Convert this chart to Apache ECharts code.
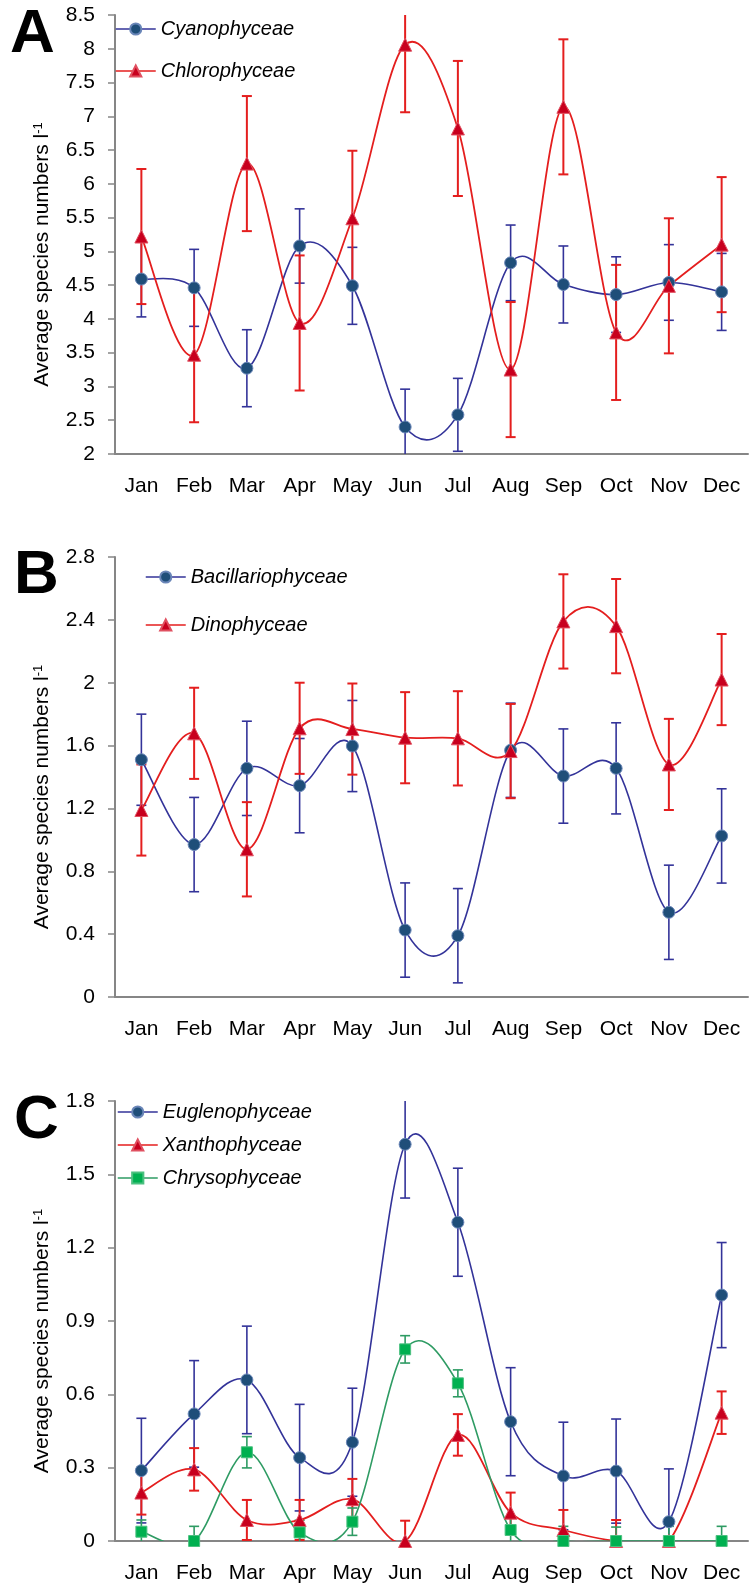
<!DOCTYPE html>
<html>
<head>
<meta charset="utf-8">
<script src="https://cdn.jsdelivr.net/npm/echarts@6/dist/echarts.min.js"></script>
<style>
  html, body { margin: 0; padding: 0; background: #fff; }
  #chart { width: 749px; height: 1588px; }
</style>
</head>
<body>
<div id="chart"></div>
<script>
// months on every x axis
const months = ['Jan', 'Feb', 'Mar', 'Apr', 'May', 'Jun', 'Jul', 'Aug', 'Sep', 'Oct', 'Nov', 'Dec']

// panel A
const cyano = [4.59, 4.46, 3.27, 5.08, 4.49, 2.40, 2.58, 4.83, 4.51, 4.36, 4.54, 4.40]
const cyanoErr = [0.56, 0.57, 0.57, 0.55, 0.57, 0.56, 0.54, 0.56, 0.57, 0.56, 0.56, 0.57]
const chloro = [5.22, 3.47, 6.30, 3.94, 5.49, 8.06, 6.82, 3.25, 7.14, 3.80, 4.49, 5.10]
const chloroErr = [1.0, 1.0, 1.0, 1.0, 1.0, 1.0, 1.0, 1.0, 1.0, 1.0, 1.0, 1.0]

// panel B
const bacill = [1.51, 0.97, 1.455, 1.345, 1.597, 0.426, 0.39, 1.57, 1.406, 1.455, 0.539, 1.025]
const bacillErr = [0.29, 0.30, 0.30, 0.30, 0.29, 0.30, 0.30, 0.30, 0.30, 0.29, 0.30, 0.30]
const dino = [1.19, 1.678, 0.94, 1.71, 1.705, 1.65, 1.646, 1.565, 2.39, 2.36, 1.48, 2.02]
const dinoErr = [0.29, 0.29, 0.30, 0.29, 0.29, 0.29, 0.30, 0.30, 0.30, 0.30, 0.29, 0.29]

// panel C
const eugleno = [0.288, 0.52, 0.659, 0.341, 0.404, 1.623, 1.304, 0.488, 0.266, 0.286, 0.079, 1.006]
const euglenoErr = [0.214, 0.218, 0.22, 0.218, 0.221, 0.22, 0.221, 0.221, 0.22, 0.213, 0.216, 0.215]
const xantho = [0.198, 0.293, 0.086, 0.086, 0.171, 0.0, 0.434, 0.116, 0.045, 0.0, 0.0, 0.525]
const xanthoErr = [0.09, 0.087, 0.082, 0.082, 0.083, 0.083, 0.085, 0.082, 0.082, 0.086, 0, 0.087]
const chryso = [0.038, 0.0, 0.363, 0.035, 0.079, 0.784, 0.645, 0.045, 0.0, 0.0, 0.0, 0.0]
const chrysoErr = [0.048, 0.06, 0.064, 0.05, 0.056, 0.056, 0.055, 0.05, 0.06, 0.057, 0.06, 0.06]

const FONT = 'Liberation Sans, Arial, sans-serif'
const AXIS_GREY = '#868686'
const BLUE = '#333399'
const RED = '#E41E1E'
const GREEN = '#2E9B63'

const chart = echarts.init(document.getElementById('chart'))

const grids = [
  { left: 115, top: 15, width: 633, height: 439 },
  { left: 115, top: 557, width: 633, height: 440 },
  { left: 115, top: 1101, width: 633, height: 440 }
]

function xAxisFor (gi) {
  return {
    type: 'category',
    gridIndex: gi,
    data: months,
    boundaryGap: true,
    axisLine: { lineStyle: { color: AXIS_GREY, width: 2 } },
    axisTick: { length: 5, lineStyle: { color: AXIS_GREY, width: 1.5 } },
    axisLabel: { margin: 22, fontSize: 21, color: '#000', fontFamily: FONT }
  }
}

function yAxisFor (gi, min, max, interval) {
  return {
    type: 'value',
    gridIndex: gi,
    min: min,
    max: max,
    interval: interval,
    name: 'Average species numbers l{s|-1}',
    nameLocation: 'middle',
    nameGap: 62,
    nameRotate: 90,
    nameTextStyle: {
      fontSize: 21,
      color: '#000',
      fontFamily: FONT,
      padding: [0, 40, 0, 0],
      rich: { s: { fontSize: 13, verticalAlign: 'top', fontFamily: FONT, color: '#000' } }
    },
    splitLine: { show: false },
    axisLine: { show: true, lineStyle: { color: AXIS_GREY, width: 2 } },
    axisTick: { show: true, length: 7, lineStyle: { color: AXIS_GREY, width: 1.5 } },
    axisLabel: { margin: 20, fontSize: 21, color: '#000', fontFamily: FONT }
  }
}

// smoothed curve like the spreadsheet one, drawn through the axis scale
function curve (gi, vals, color, width) {
  return {
    type: 'custom',
    xAxisIndex: gi,
    yAxisIndex: gi,
    clip: true,
    silent: true,
    z: 2,
    data: [[0, vals[0]]],
    renderItem: function (params, api) {
      const pts = vals.map((v, i) => api.coord([i, v]))
      let d = 'M' + pts[0][0] + ' ' + pts[0][1]
      for (let i = 0; i < pts.length - 1; i++) {
        const p0 = pts[Math.max(i - 1, 0)]
        const p1 = pts[i]
        const p2 = pts[i + 1]
        const p3 = pts[Math.min(i + 2, pts.length - 1)]
        const c1x = p1[0] + (p2[0] - p0[0]) / 6
        const c1y = p1[1] + (p2[1] - p0[1]) / 6
        const c2x = p2[0] - (p3[0] - p1[0]) / 6
        const c2y = p2[1] - (p3[1] - p1[1]) / 6
        d += ' C' + c1x + ' ' + c1y + ' ' + c2x + ' ' + c2y + ' ' + p2[0] + ' ' + p2[1]
      }
      return {
        type: 'path',
        shape: { pathData: d },
        style: { fill: 'none', stroke: color, lineWidth: width }
      }
    }
  }
}

function errorBars (gi, vals, errs, color, width) {
  return {
    type: 'custom',
    xAxisIndex: gi,
    yAxisIndex: gi,
    clip: true,
    silent: true,
    z: 1,
    encode: { x: 0, y: [1, 2] },
    data: vals.map((v, i) => [i, v - errs[i], v + errs[i]]),
    renderItem: function (params, api) {
      if (api.value(2) === api.value(1)) return null
      const lo = api.coord([api.value(0), api.value(1)])
      const hi = api.coord([api.value(0), api.value(2)])
      const w = 5
      const st = { stroke: color, lineWidth: width }
      return {
        type: 'group',
        children: [
          { type: 'line', shape: { x1: hi[0], y1: hi[1], x2: lo[0], y2: lo[1] }, style: st },
          { type: 'line', shape: { x1: hi[0] - w, y1: hi[1], x2: hi[0] + w, y2: hi[1] }, style: st },
          { type: 'line', shape: { x1: lo[0] - w, y1: lo[1], x2: lo[0] + w, y2: lo[1] }, style: st }
        ]
      }
    }
  }
}

function markers (gi, name, vals, symbol, size, fill, border) {
  return {
    name: name,
    type: 'line',
    xAxisIndex: gi,
    yAxisIndex: gi,
    data: vals,
    symbol: symbol,
    symbolSize: size,
    showAllSymbol: true,
    silent: true,
    animation: false,
    z: 5,
    lineStyle: { opacity: 0 },
    itemStyle: { color: fill, borderColor: border, borderWidth: 1 }
  }
}

function legendFor (gi, left, top, gap, items) {
  return {
    orient: 'vertical',
    left: left,
    top: top,
    itemGap: gap,
    itemWidth: 40,
    itemHeight: 14,
    selectedMode: false,
    textStyle: { fontSize: 20, fontStyle: 'italic', color: '#000', fontFamily: FONT },
    data: items.map(it => ({ name: it[0], lineStyle: { color: it[1], width: 1.5, opacity: 1 } }))
  }
}

const option = {
  backgroundColor: '#fff',
  animation: false,
  grid: grids,
  xAxis: [xAxisFor(0), xAxisFor(1), xAxisFor(2)],
  yAxis: [yAxisFor(0, 2, 8.5, 0.5), yAxisFor(1, 0, 2.8, 0.4), yAxisFor(2, 0, 1.8, 0.3)],
  legend: [
    legendFor(0, 110, 14, 22, [['Cyanophyceae', BLUE], ['Chlorophyceae', RED]]),
    legendFor(1, 140, 562, 28, [['Bacillariophyceae', BLUE], ['Dinophyceae', RED]]),
    legendFor(2, 112, 1097, 13, [['Euglenophyceae', BLUE], ['Xanthophyceae', RED], ['Chrysophyceae', GREEN]])
  ],
  graphic: [
    { type: 'text', left: 10, top: 4, style: { text: 'A', fontSize: 62, fontWeight: 'bold', fontFamily: FONT, fill: '#000' } },
    { type: 'text', left: 14, top: 545, style: { text: 'B', fontSize: 62, fontWeight: 'bold', fontFamily: FONT, fill: '#000' } },
    { type: 'text', left: 14, top: 1090, style: { text: 'C', fontSize: 62, fontWeight: 'bold', fontFamily: FONT, fill: '#000' } }
  ],
  series: [
    errorBars(0, cyano, cyanoErr, BLUE, 1.6),
    curve(0, cyano, BLUE, 1.6),
    markers(0, 'Cyanophyceae', cyano, 'circle', 12, '#1F4E79', '#6A86B8'),
    errorBars(0, chloro, chloroErr, RED, 2),
    curve(0, chloro, RED, 1.8),
    markers(0, 'Chlorophyceae', chloro, 'triangle', 13, '#C8001E', '#E05060'),

    errorBars(1, bacill, bacillErr, BLUE, 1.6),
    curve(1, bacill, BLUE, 1.6),
    markers(1, 'Bacillariophyceae', bacill, 'circle', 12, '#1F4E79', '#6A86B8'),
    errorBars(1, dino, dinoErr, RED, 2),
    curve(1, dino, RED, 1.8),
    markers(1, 'Dinophyceae', dino, 'triangle', 13, '#C8001E', '#E05060'),

    errorBars(2, eugleno, euglenoErr, BLUE, 1.6),
    curve(2, eugleno, BLUE, 1.6),
    markers(2, 'Euglenophyceae', eugleno, 'circle', 12, '#1F4E79', '#6A86B8'),
    errorBars(2, xantho, xanthoErr, RED, 2),
    curve(2, xantho, RED, 1.8),
    markers(2, 'Xanthophyceae', xantho, 'triangle', 13, '#C8001E', '#E05060'),
    errorBars(2, chryso, chrysoErr, GREEN, 1.6),
    curve(2, chryso, GREEN, 1.6),
    markers(2, 'Chrysophyceae', chryso, 'rect', 11, '#00B050', '#4CC080')
  ]
}

chart.setOption(option)
</script>
</body>
</html>
